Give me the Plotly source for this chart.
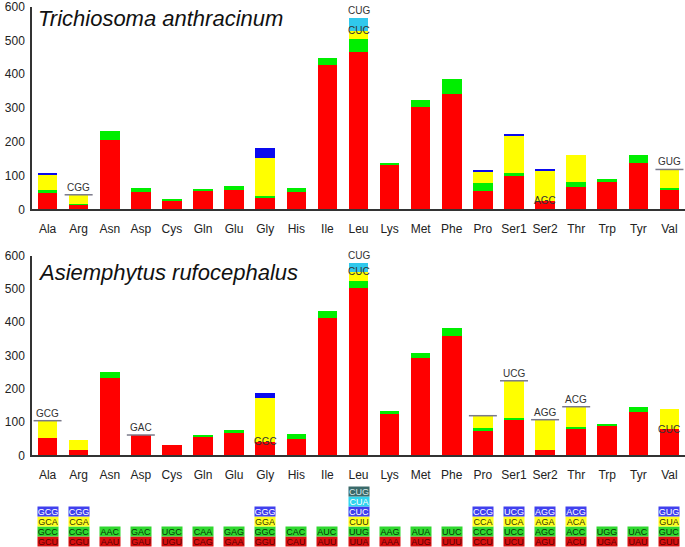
import plotly.graph_objects as go

amino_acids = ["Ala", "Arg", "Asn", "Asp", "Cys", "Gln", "Glu", "Gly", "His", "Ile",
               "Leu", "Lys", "Met", "Phe", "Pro", "Ser1", "Ser2", "Thr", "Trp", "Tyr", "Val"]

# codons per amino acid, bottom (most used colour: red) to top
codons = {
    "Ala": ["GCU", "GCC", "GCA", "GCG"],
    "Arg": ["CGU", "CGC", "CGA", "CGG"],
    "Asn": ["AAU", "AAC"],
    "Asp": ["GAU", "GAC"],
    "Cys": ["UGU", "UGC"],
    "Gln": ["CAG", "CAA"],
    "Glu": ["GAA", "GAG"],
    "Gly": ["GGU", "GGC", "GGA", "GGG"],
    "His": ["CAU", "CAC"],
    "Ile": ["AUU", "AUC"],
    "Leu": ["UUA", "UUG", "CUU", "CUC", "CUA", "CUG"],
    "Lys": ["AAA", "AAG"],
    "Met": ["AUG", "AUA"],
    "Phe": ["UUU", "UUC"],
    "Pro": ["CCU", "CCC", "CCA", "CCG"],
    "Ser1": ["UCU", "UCC", "UCA", "UCG"],
    "Ser2": ["AGU", "AGC", "AGA", "AGG"],
    "Thr": ["ACU", "ACC", "ACA", "ACG"],
    "Trp": ["UGA", "UGG"],
    "Tyr": ["UAU", "UAC"],
    "Val": ["GUU", "GUC", "GUA", "GUG"],
}

# codon counts (same order as codons above)
trichiosoma = {
    "Ala": [52, 5, 48, 3], "Arg": [14, 1, 28, 0], "Asn": [205, 28], "Asp": [52, 11],
    "Cys": [28, 3], "Gln": [58, 3], "Glu": [58, 12], "Gly": [37, 2, 113, 30],
    "His": [50, 14], "Ile": [426, 21], "Leu": [467, 37, 25, 0, 38, 0], "Lys": [130, 6],
    "Met": [304, 20], "Phe": [342, 43], "Pro": [55, 22, 35, 4], "Ser1": [99, 9, 110, 4],
    "Ser2": [25, 0, 87, 7], "Thr": [67, 13, 82, 0], "Trp": [82, 7], "Tyr": [138, 23],
    "Val": [59, 3, 56, 0],
}
asiemphytus = {
    "Ala": [51, 0, 53, 0], "Arg": [15, 0, 31, 0], "Asn": [233, 18], "Asp": [61, 0],
    "Cys": [31, 0], "Gln": [56, 6], "Glu": [68, 7], "Gly": [40, 0, 133, 13],
    "His": [50, 15], "Ile": [414, 19], "Leu": [502, 22, 28, 0, 25, 0], "Lys": [124, 8],
    "Met": [294, 14], "Phe": [358, 26], "Pro": [72, 9, 38, 0], "Ser1": [107, 5, 112, 0],
    "Ser2": [16, 0, 91, 0], "Thr": [82, 4, 60, 0], "Trp": [90, 2], "Tyr": [130, 15],
    "Val": [78, 0, 60, 0],
}

# absent codons marked on the charts: (amino acid, codon label, draw line)
marks_top = [("Arg", "CGG", True), ("Leu", "CUC", False), ("Leu", "CUG", False),
             ("Ser2", "AGC", False), ("Val", "GUG", True)]
marks_bottom = [("Ala", "GCG", True), ("Asp", "GAC", True), ("Gly", "GGC", False),
                ("Leu", "CUC", False), ("Leu", "CUG", False), ("Pro", "CCG", True),
                ("Ser1", "UCG", True), ("Ser2", "AGG", True), ("Thr", "ACG", True),
                ("Val", "GUC", False)]
mark_hidden_text = [("Pro", "CCG")]

titles = ["Trichiosoma anthracinum", "Asiemphytus rufocephalus"]
y_ticks = [0, 100, 200, 300, 400, 500, 600]

bar_colors = ["#FF0000", "#00EE00", "#FFFF00", "#0A0AEE", "#30C8EC", "#2F6666"]
box_colors = ["#D81010", "#2FD82F", "#FFFF22", "#4040EE", "#30D4EE", "#3A6A6A"]
box_text = ["#5A0000", "#063306", "#333300", "#FFFFFF", "#FFFFFF", "#D8E8E8"]

fig = go.Figure()
H, W = 547, 685
x_dom = [32 / W, 1.0]
y_doms = [[1 - 209.3 / H, 1 - 6.7 / H], [1 - 455.3 / H, 1 - 255.7 / H]]
leg_dom = [1 - 546 / H, 1 - 486 / H]

annotations = []
for ci, (data, marks) in enumerate([(trichiosoma, marks_top), (asiemphytus, marks_bottom)]):
    xa = "x" if ci == 0 else "x2"
    ya = "y" if ci == 0 else "y2"
    for lvl in range(6):
        ys = [data[a][lvl] if lvl < len(data[a]) else 0 for a in amino_acids]
        fig.add_trace(go.Bar(x=amino_acids, y=ys, marker_color=bar_colors[lvl],
                             marker_line_width=0, xaxis=xa, yaxis=ya, showlegend=False))
    lx, ly = [], []
    for aa, cod, line in marks:
        idx = codons[aa].index(cod)
        pos = sum(data[aa][:idx])
        on_top = sum(data[aa][idx:]) == 0
        if line:
            lx.append(aa)
            ly.append(pos)
        if (aa, cod) in mark_hidden_text:
            continue
        annotations.append(dict(x=aa, y=pos, xref=xa, yref=ya, text=cod, showarrow=False,
                                yanchor="bottom" if on_top else "middle",
                                font=dict(family="Arial", size=10, color="#333333")))
    fig.add_trace(go.Scatter(x=lx, y=ly, mode="markers", xaxis=xa, yaxis=ya, showlegend=False,
                             marker=dict(symbol="line-ew", size=20,
                                         line=dict(color="#7A7A8A", width=1.5)),
                             cliponaxis=False))
    annotations.append(dict(x=36 / W, y=(1 - 19 / H) if ci == 0 else (1 - 272 / H),
                            xref="paper", yref="paper", text="<i>" + titles[ci] + "</i>",
                            showarrow=False, xanchor="left", yanchor="middle",
                            font=dict(family="Arial", size=22, color="#111111")))

# codon key
for aa in amino_acids:
    for lvl, cod in enumerate(codons[aa]):
        annotations.append(dict(x=aa, y=lvl, xref="x3", yref="y3", text=cod, showarrow=False,
                                bgcolor=box_colors[lvl], width=20, height=9, borderpad=0,
                                font=dict(family="Arial", size=9, color=box_text[lvl])))

axis_common = dict(showline=True, linecolor="#333333", linewidth=1.5, showgrid=False,
                   zeroline=False, ticks="", automargin=False, ticklabeloverflow="allow",
                   tickfont=dict(family="Arial", size=12, color="#222222"))

fig.update_layout(
    width=W, height=H, margin=dict(l=0, r=0, t=0, b=0, autoexpand=False),
    plot_bgcolor="white", paper_bgcolor="white",
    barmode="stack", bargap=0.37,
    annotations=annotations,
    xaxis=dict(domain=x_dom, anchor="y", type="category", categoryorder="array",
               categoryarray=amino_acids, range=[-0.5, 20.5], ticklabelstandoff=8, **axis_common),
    yaxis=dict(domain=y_doms[0], anchor="x", range=[0, 600], tickvals=y_ticks,
               ticklabelstandoff=3, **axis_common),
    xaxis2=dict(domain=x_dom, anchor="y2", type="category", categoryorder="array",
                categoryarray=amino_acids, range=[-0.5, 20.5], ticklabelstandoff=8, **axis_common),
    yaxis2=dict(domain=y_doms[1], anchor="x2", range=[0, 600], tickvals=y_ticks,
                ticklabelstandoff=3, **axis_common),
    xaxis3=dict(domain=x_dom, anchor="y3", type="category", categoryorder="array",
                categoryarray=amino_acids, range=[-0.5, 20.5], visible=False, automargin=False),
    yaxis3=dict(domain=leg_dom, anchor="x3", range=[-0.5, 5.5], visible=False, automargin=False),
)

fig.write_html("out.html", config={"displayModeBar": False},
               post_script="document.body.style.margin='0';")
